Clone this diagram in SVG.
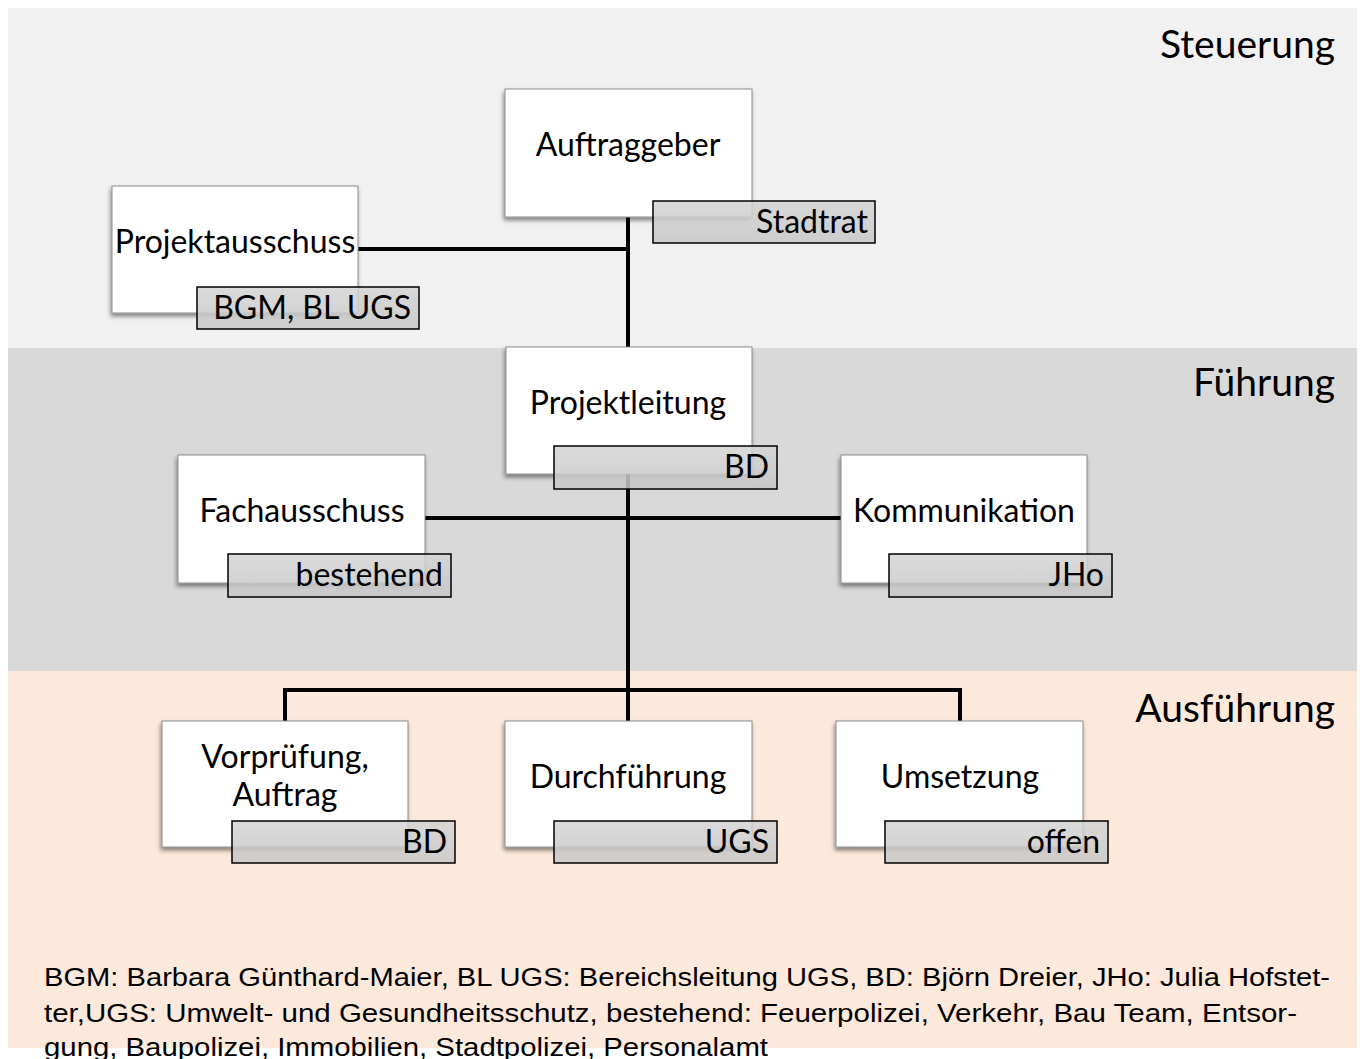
<svg xmlns="http://www.w3.org/2000/svg" width="1362" height="1059" viewBox="0 0 1362 1059">
<defs>
<filter id="sh" x="-10%" y="-10%" width="120%" height="130%">
<feDropShadow dx="-1" dy="3" stdDeviation="2" flood-color="#000" flood-opacity="0.45"/>
</filter>
<linearGradient id="lg" x1="0" y1="0" x2="0" y2="1">
<stop offset="0" stop-color="#d4d4d4"/>
<stop offset="1" stop-color="#c6c6c6"/>
</linearGradient>
</defs>
<style>
.node{fill:#fff;stroke:#8c8c8c;stroke-width:1;filter:url(#sh)}
.tag{fill:url(#lg);fill-opacity:0.85;stroke:#000;stroke-width:1.5}
.t{font-family:Lato,"Open Sans",sans-serif;font-size:32px;fill:#000;text-anchor:middle}
.tt{font-family:Lato,"Open Sans",sans-serif;font-size:32px;fill:#000;text-anchor:end}
.band{font-family:Lato,"Open Sans",sans-serif;font-size:39px;fill:#000;text-anchor:end}
.con{stroke:#000;stroke-width:4;fill:none}
.note{font-family:"Liberation Sans",Arial,sans-serif;font-size:25px;fill:#000}
</style>
<rect x="0" y="0" width="1362" height="1059" fill="#fff"/>
<rect x="8" y="8" width="1349" height="340" fill="#f1f1f1"/>
<rect x="8" y="348" width="1349" height="323" fill="#d9d9d9"/>
<rect x="8" y="671" width="1349" height="377" fill="#fce9db"/>
<text class="band" x="1335" y="58">Steuerung</text>
<text class="band" x="1335" y="396">Führung</text>
<text class="band" x="1335" y="722">Ausführung</text>
<g id="connectors">
<path class="con" d="M628 217V347M358 249H628"/>
<path class="con" d="M628 474V690M425 518H841M285 721V690H960V721M628 690V721"/>
</g>
<g id="auftraggeber">
<rect class="node" x="505" y="89" width="247" height="128"/>
<text class="t" x="628" y="156">Auftraggeber</text>
<rect class="tag" x="653" y="201" width="222" height="42"/>
<text class="tt" x="868" y="233">Stadtrat</text>
</g>
<g id="projektausschuss">
<rect class="node" x="112" y="186" width="246" height="127"/>
<text class="t" x="235" y="253">Projektausschuss</text>
<rect class="tag" x="197" y="287" width="222" height="42"/>
<text class="tt" x="411" y="319">BGM, BL UGS</text>
</g>
<g id="projektleitung">
<rect class="node" x="506" y="347" width="246" height="127"/>
<text class="t" x="628" y="414">Projektleitung</text>
<rect class="tag" x="554" y="446" width="223" height="43"/>
<text class="tt" x="769" y="478">BD</text>
</g>
<g id="fachausschuss">
<rect class="node" x="178" y="455" width="247" height="128"/>
<text class="t" x="302" y="522">Fachausschuss</text>
<rect class="tag" x="228" y="554" width="223" height="43"/>
<text class="tt" x="443" y="586">bestehend</text>
</g>
<g id="kommunikation">
<rect class="node" x="841" y="455" width="246" height="128"/>
<text class="t" x="964" y="522">Kommunikation</text>
<rect class="tag" x="889" y="554" width="223" height="43"/>
<text class="tt" x="1104" y="586">JHo</text>
</g>
<g id="vorpruefung">
<rect class="node" x="162" y="721" width="246" height="126"/>
<text class="t" x="285" y="768">Vorprüfung,</text>
<text class="t" x="285" y="806">Auftrag</text>
<rect class="tag" x="232" y="821" width="223" height="42"/>
<text class="tt" x="447" y="853">BD</text>
</g>
<g id="durchfuehrung">
<rect class="node" x="505" y="721" width="247" height="126"/>
<text class="t" x="628" y="788">Durchführung</text>
<rect class="tag" x="554" y="821" width="223" height="42"/>
<text class="tt" x="769" y="853">UGS</text>
</g>
<g id="umsetzung">
<rect class="node" x="836" y="721" width="247" height="126"/>
<text class="t" x="960" y="788">Umsetzung</text>
<rect class="tag" x="885" y="821" width="223" height="42"/>
<text class="tt" x="1100" y="853">offen</text>
</g>
<text class="note" x="44" y="986" textLength="1286" lengthAdjust="spacingAndGlyphs">BGM: Barbara Günthard-Maier, BL UGS: Bereichsleitung UGS, BD: Björn Dreier, JHo: Julia Hofstet-</text>
<text class="note" x="44" y="1022" textLength="1253" lengthAdjust="spacingAndGlyphs">ter,UGS: Umwelt- und Gesundheitsschutz, bestehend: Feuerpolizei, Verkehr, Bau Team, Entsor-</text>
<text class="note" x="44" y="1056" textLength="724" lengthAdjust="spacingAndGlyphs">gung, Baupolizei, Immobilien, Stadtpolizei, Personalamt</text>
</svg>
